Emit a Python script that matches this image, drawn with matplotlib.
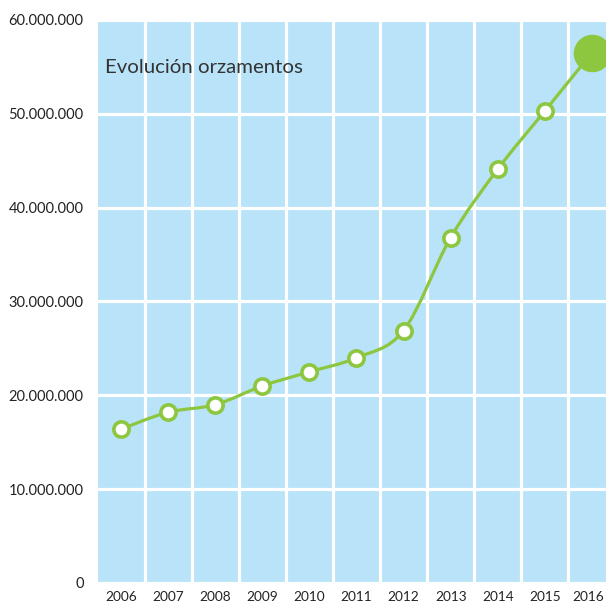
import matplotlib
matplotlib.use("Agg")
import matplotlib.pyplot as plt
import matplotlib.transforms as mtransforms
from matplotlib.path import Path
from matplotlib.patches import PathPatch
from matplotlib.ticker import FuncFormatter

years = ["2006", "2007", "2008", "2009", "2010", "2011",
         "2012", "2013", "2014", "2015", "2016"]
budget = [16.4e6, 18.2e6, 19.0e6, 21.0e6, 22.5e6, 24.0e6,
          26.9e6, 36.8e6, 44.1e6, 50.3e6, 56.5e6]
title = "Evolución orzamentos"

GREEN = "#8dc63f"
BLUE = "#b9e3f8"
plt.rcParams["font.family"] = ["Lato", "DejaVu Sans"]


def smooth_path(xs, ys, k=1 / 6):
    # cardinal spline through the points, as cubic bezier segments
    verts = [(xs[0], ys[0])]
    codes = [Path.MOVETO]
    n = len(xs)
    for i in range(n - 1):
        x0, y0 = (xs[i - 1], ys[i - 1]) if i > 0 else (xs[i], ys[i])
        x3, y3 = (xs[i + 2], ys[i + 2]) if i + 2 < n else (xs[i + 1], ys[i + 1])
        c1 = (xs[i] + (xs[i + 1] - x0) * k, ys[i] + (ys[i + 1] - y0) * k)
        c2 = (xs[i + 1] - (x3 - xs[i]) * k, ys[i + 1] - (y3 - ys[i]) * k)
        verts += [c1, c2, (xs[i + 1], ys[i + 1])]
        codes += [Path.CURVE4] * 3
    return Path(verts, codes)


fig = plt.figure(figsize=(6.06, 6.06), dpi=100)
ax = fig.add_axes([0.161, 0.038, 0.839, 0.929])
ax.set_facecolor(BLUE)

x = list(range(len(years)))
ax.set_xlim(-0.5, 10.3)
ax.set_ylim(0, 60e6)

# white cell borders
ax.set_yticks(range(0, 60000001, 10000000))
ax.set_xticks(x)
ax.set_xticks([i + 0.5 for i in x[:-1]], minor=True)
ax.grid(True, which="major", axis="y", color="white", linewidth=2.3)
ax.grid(True, which="minor", axis="x", color="white", linewidth=2.3)
ax.set_axisbelow(True)
ax.set_xticklabels(years)
ax.yaxis.set_major_formatter(FuncFormatter(lambda v, p: f"{int(v):,}".replace(",", ".")))
ax.tick_params(axis="both", which="both", length=0, colors="#222222")
ax.tick_params(axis="y", pad=10, labelsize=10.5)
ax.tick_params(axis="x", pad=6, labelsize=9.8)
for s in ax.spines.values():
    s.set_visible(False)

# nudge the last year label so it stays inside the figure
last = ax.get_xticklabels()[-1]
last.set_transform(last.get_transform() +
                   mtransforms.ScaledTranslation(-4 / 100, 0, fig.dpi_scale_trans))

ax.add_patch(PathPatch(smooth_path(x, budget), facecolor="none",
                       edgecolor=GREEN, linewidth=2.3, zorder=3))
ax.plot(x[:-1], budget[:-1], linestyle="none", marker="o", markersize=11,
        markerfacecolor="white", markeredgecolor=GREEN, markeredgewidth=2.6,
        zorder=4, clip_on=False)
ax.plot(x[-1], budget[-1], linestyle="none", marker="o", markersize=26,
        color=GREEN, zorder=5, clip_on=False)

ax.text(0.015, 0.915, title, transform=ax.transAxes, fontsize=14.7,
        color="#333333", va="center", ha="left")

fig.savefig("out.png", dpi=100)
